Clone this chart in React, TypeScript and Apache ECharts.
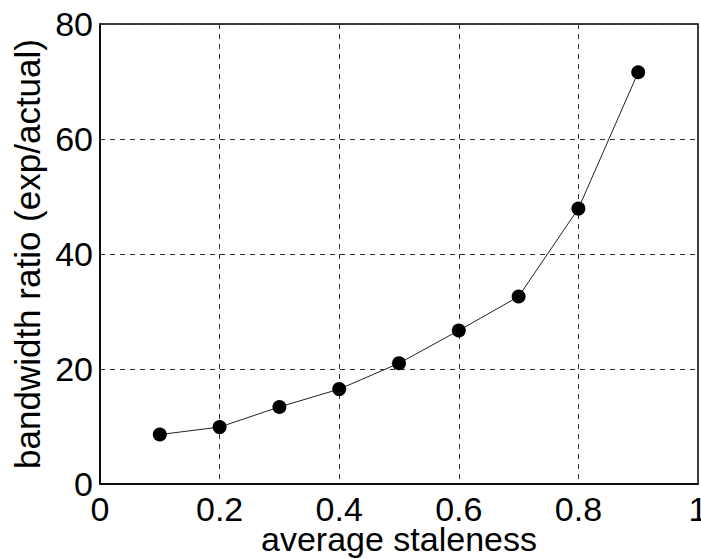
import React, { useEffect, useRef } from "react";
import * as echarts from "echarts";

const staleness = [0.1, 0.2, 0.3, 0.4, 0.5, 0.6, 0.7, 0.8, 0.9];
const ratio = [8.6, 9.9, 13.4, 16.5, 21.0, 26.7, 32.6, 47.9, 71.6];
const xTicks = [0, 0.2, 0.4, 0.6, 0.8, 1];
const yTicks = [0, 20, 40, 60, 80];

const FONT = "'Liberation Sans', Arial, Helvetica, sans-serif";

export default function App() {
  const ref = useRef<HTMLDivElement>(null);
  useEffect(() => {
    if (!ref.current) return;
    const chart = echarts.init(ref.current, null, { renderer: "svg" });
    chart.setOption({
      animation: false,
      backgroundColor: "#fff",
      grid: {
        left: 100,
        right: 3,
        top: 24,
        bottom: 75,
        show: true,
        borderColor: "#000",
        borderWidth: 1.5,
        containLabel: false,
        outerBoundsMode: "none",
      },
      xAxis: {
        type: "value",
        min: xTicks[0],
        max: xTicks[xTicks.length - 1],
        interval: 0.2,
        name: "average staleness",
        nameLocation: "middle",
        nameGap: 38,
        nameMoveOverlap: false,
        nameTextStyle: { fontFamily: FONT, fontSize: 34, color: "#000" },
        axisLine: { show: true, lineStyle: { color: "#000", width: 1.5 } },
        axisTick: { show: false },
        axisLabel: {
          fontFamily: FONT,
          fontSize: 34,
          color: "#000",
          margin: 8,
          formatter: (v: number) => (v === 0 || v === 1 ? String(v) : v.toFixed(1)),
        },
        splitLine: { show: true, lineStyle: { color: "#333", type: [5, 5], width: 1 } },
      },
      yAxis: {
        type: "value",
        min: yTicks[0],
        max: yTicks[yTicks.length - 1],
        interval: 20,
        name: "bandwidth ratio (exp/actual)",
        nameLocation: "middle",
        nameGap: 55,
        nameMoveOverlap: false,
        nameRotate: 90,
        nameTextStyle: { fontFamily: FONT, fontSize: 35, color: "#000" },
        axisLine: { show: true, lineStyle: { color: "#000", width: 1.5 } },
        axisTick: { show: false },
        axisLabel: { fontFamily: FONT, fontSize: 34, color: "#000", margin: 7 },
        splitLine: { show: true, lineStyle: { color: "#333", type: [5, 5], width: 1 } },
      },
      series: [
        {
          type: "line",
          data: staleness.map((x, i) => [x, ratio[i]]),
          symbol: "circle",
          symbolSize: 14,
          itemStyle: { color: "#000" },
          lineStyle: { color: "#222", width: 1 },
        },
      ],
    });
    return () => chart.dispose();
  }, []);
  return <div ref={ref} style={{ width: 701, height: 559, position: "absolute", left: 0, top: 0 }} />;
}
